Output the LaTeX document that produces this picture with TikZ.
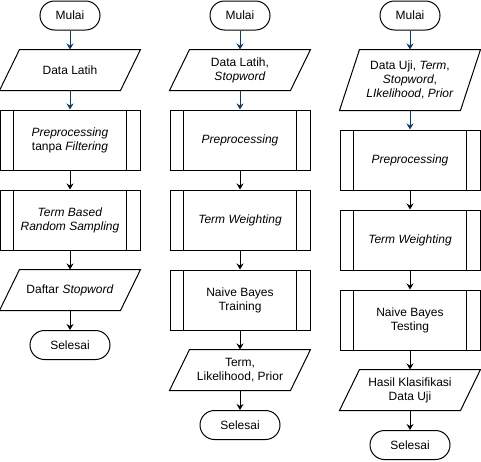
\documentclass[tikz,border=0pt]{standalone}
\usepackage{fontspec}
\setmainfont{Liberation Sans}
\usetikzlibrary{arrows.meta}
\definecolor{flowblue}{RGB}{10,60,110}
\tikzset{
  base/.style={font=\fontsize{12}{14}\selectfont, align=center, line width=1pt, inner sep=0pt},
  term/.style={base, draw, rounded corners=14.5pt, minimum width=60pt, minimum height=29pt},
  termwide/.style={term, minimum width=80pt},
  iobox/.style={base, minimum width=140pt, minimum height=40pt},
  iotall/.style={iobox, minimum height=60pt},
  procbox/.style={base, draw, minimum width=140pt, minimum height=60pt},
  conn/.style={line width=1pt, -{Stealth[length=6pt,width=7pt,inset=2pt]}},
  connblue/.style={conn, draw=flowblue, -{Stealth[length=6pt,width=7pt,inset=2pt,fill=flowblue]}},
}
\newcommand{\parallelo}[1]{%
  \draw[line width=1pt] ([xshift=20pt]#1.north west) -- (#1.north east) -- ([xshift=-20pt]#1.south east) -- (#1.south west) -- cycle;}
\newcommand{\innerlines}[1]{%
  \draw[line width=1pt] ([xshift=14pt]#1.north west) -- ([xshift=14pt]#1.south west)
        ([xshift=-14pt]#1.north east) -- ([xshift=-14pt]#1.south east);}
\begin{document}
\begin{tikzpicture}[x=1pt,y=-1pt]
\useasboundingbox (0,0) rectangle (481,461);
% column 1
\node[term] (m1) at (70,15.5) {Mulai};
\node[iobox] (d1) at (70,70) {Data Latih};
\node[procbox] (p1) at (70,140) {\textit{Preprocessing}\\tanpa \textit{Filtering}};
\node[procbox] (t1) at (70,220) {\textit{Term Based}\\\textit{Random Sampling}};
\node[iobox] (s1) at (70,290) {Daftar \textit{Stopword}};
\node[termwide] (e1) at (70,345) {Selesai};
% column 2
\node[term] (m2) at (240,15.5) {Mulai};
\node[iobox] (d2) at (240,70) {Data Latih,\\\textit{Stopword}};
\node[procbox] (p2) at (240,140) {\textit{Preprocessing}};
\node[procbox] (w2) at (240,220) {\textit{Term Weighting}};
\node[procbox] (n2) at (240,300) {Naive Bayes\\Training};
\node[iobox] (o2) at (240,370) {Term,\\Likelihood, Prior};
\node[termwide] (e2) at (240,425) {Selesai};
% column 3
\node[term] (m3) at (410,15.5) {Mulai};
\node[iotall] (d3) at (410,80) {Data Uji, \textit{Term},\\\textit{Stopword},\\\textit{LIkelihood}, \textit{Prior}};
\node[procbox] (p3) at (410,160) {\textit{Preprocessing}};
\node[procbox] (w3) at (410,240) {\textit{Term Weighting}};
\node[procbox] (n3) at (410,320) {Naive Bayes\\Testing};
\node[iobox] (h3) at (410,390) {Hasil Klasifikasi\\Data Uji};
\node[termwide] (e3) at (410,445) {Selesai};
% shapes
\parallelo{d1}\parallelo{s1}\parallelo{d2}\parallelo{o2}\parallelo{d3}\parallelo{h3}
\innerlines{p1}\innerlines{t1}\innerlines{p2}\innerlines{w2}\innerlines{n2}
\innerlines{p3}\innerlines{w3}\innerlines{n3}
% connectors
\draw[connblue] (m1) -- (d1);
\draw[connblue] (d1) -- (p1);
\draw[conn] (p1) -- (t1);
\draw[conn] (t1) -- (s1);
\draw[conn] (s1) -- (e1);
\draw[connblue] (m2) -- (d2);
\draw[connblue] (d2) -- (p2);
\draw[conn] (p2) -- (w2);
\draw[conn] (w2) -- (n2);
\draw[conn] (n2) -- (o2);
\draw[conn] (o2) -- (e2);
\draw[connblue] (m3) -- (d3);
\draw[connblue] (d3) -- (p3);
\draw[conn] (p3) -- (w3);
\draw[conn] (w3) -- (n3);
\draw[conn] (n3) -- (h3);
\draw[conn] (h3) -- (e3);
\end{tikzpicture}
\end{document}
